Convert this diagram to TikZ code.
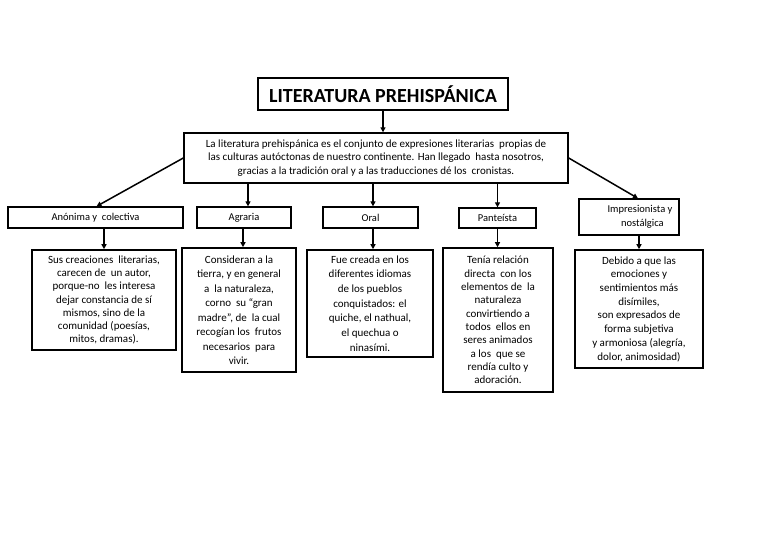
\documentclass[tikz,border=0pt]{standalone}
\usepackage{fontspec}
\setmainfont{Carlito}
\usetikzlibrary{arrows.meta}
\begin{document}
\begin{tikzpicture}[x=1pt,y=-1pt,
  box/.style={draw=black, line width=1.6pt, fill=white, align=center, inner sep=1pt},
  lvl/.style={box, line width=1.3pt, font=\fontsize{10.5}{12}\selectfont},
  arr/.style={line width=1.5pt, -{Triangle[length=5pt,width=5pt]}},
]
\useasboundingbox[fill=white] (0,0) rectangle (768,544);
\node[box, minimum width=250pt, minimum height=32pt, font=\fontsize{20}{22}\selectfont\bfseries] (title) at (383,94) {LITERATURA PREHISPÁNICA};
\node[box, line width=1.4pt, minimum width=384pt, minimum height=50pt, font=\fontsize{11}{13.5}\selectfont] (desc) at (376,158)
 {La literatura prehispánica es el conjunto de expresiones literarias\ \ propias de\\
  las culturas autóctonas de nuestro continente. Han llegado\ \ hasta nosotros,\\
  gracias a la tradición oral y a las traducciones dé los\ \ cronistas.};
\node[lvl, minimum width=175pt, minimum height=21pt] (anon) at (95.5,217.5) {Anónima y\ \ colectiva};
\node[lvl, minimum width=94pt, minimum height=21pt] (agr) at (244,217.5) {Agraria};
\node[lvl, minimum width=95pt, minimum height=21pt] (oral) at (370.5,217.5) {Oral};
\node[lvl, minimum width=77pt, minimum height=20pt] (pan) at (497.5,218) {Panteísta};
\node[lvl, minimum width=100pt, minimum height=36pt] (imp) at (629,217)
 {\hspace*{22pt}{\begin{tabular}{@{}c@{}}Impresionista y\\[2.5pt]\ \ nostálgica\end{tabular}}};
\node[box, minimum width=144pt, minimum height=100pt, font=\fontsize{11}{13.3}\selectfont] (b1) at (104,300)
 {Sus creaciones\ \ literarias,\\carecen de\ \ un autor,\\porque-no\ \ les interesa\\dejar constancia de sí\\mismos, sino de la\\comunidad (poesías,\\mitos, dramas).};
\node[box, minimum width=114pt, minimum height=124pt, font=\fontsize{11}{14.5}\selectfont] (b2) at (239,310)
 {Consideran a la\\tierra, y en general\\a\ \ la naturaleza,\\corno\ \ su “gran\\madre”, de\ \ la cual\\recogían los\ \ frutos\\necesarios\ \ para\\vivir.};
\node[box, minimum width=126pt, minimum height=107pt, font=\fontsize{11}{14.7}\selectfont] (b3) at (370,303.5)
 {Fue creada en los\\diferentes idiomas\\de los pueblos\\conquistados: el\\quiche, el nathual,\\el quechua o\\ninasími.};
\node[box, minimum width=110pt, minimum height=144pt, font=\fontsize{11}{13.3}\selectfont] (b4) at (498,320)
 {Tenía relación\\directa\ \ con los\\elementos de\ \ la\\naturaleza\\convirtiendo a\\todos\ \ ellos en\\seres animados\\a los\ \ que se\\rendía culto y\\adoración.};
\node[box, minimum width=128pt, minimum height=118pt, font=\fontsize{11}{13.7}\selectfont] (b5) at (639,309)
 {Debido a que las\\emociones y\\sentimientos más\\disímiles,\\son expresados de\\forma subjetiva\\y armoniosa (alegría,\\dolor, animosidad)};
% connectors
\draw[arr] (title.south) -- (title.south |- desc.north);
\draw[arr] (desc.west) -- ([xshift=1pt]anon.north);
\draw[arr] (desc.east) -- ([xshift=9pt]imp.north);
\draw[arr] ([xshift=4pt]agr.north |- desc.south) -- ([xshift=4pt]agr.north);
\draw[arr] ([xshift=2.5pt]oral.north |- desc.south) -- ([xshift=2.5pt]oral.north);
\draw[arr] (pan.north |- desc.south) -- (pan.north);
\draw[arr] (b1.north |- anon.south) -- (b1.north);
\draw[arr] ([xshift=4pt]b2.north |- agr.south) -- ([xshift=4pt]b2.north);
\draw[arr] ([xshift=3pt]b3.north |- oral.south) -- ([xshift=3pt]b3.north);
\draw[arr] (pan.south) -- (pan.south |- b4.north);
\draw[arr] (b5.north |- imp.south) -- (b5.north);
\end{tikzpicture}
\end{document}
